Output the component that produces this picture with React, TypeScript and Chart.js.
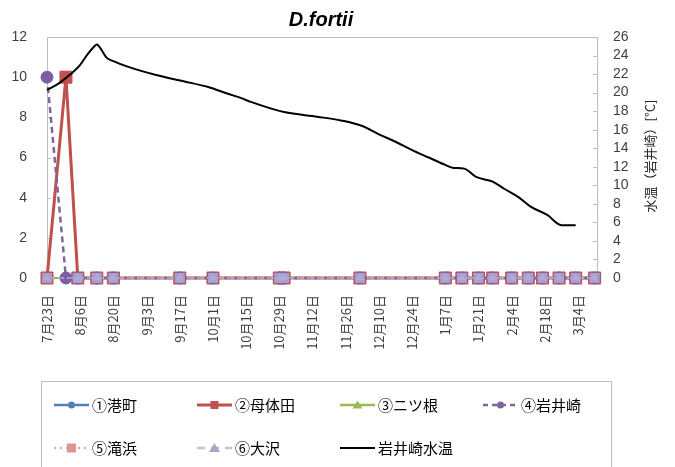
import React, { useEffect, useRef } from 'react';
import { Chart, registerables } from 'chart.js';

Chart.register(...registerables);

// ---------- text ----------
const chartTitle = 'D.fortii';
const rightAxisTitle = '水温（岩井崎）[°C]';

// ---------- x axis (dates, days counted from 7/23) ----------
const axisStart = '7/23';
const axisEnd = '3/12';
const tickDates = ['7/23', '8/6', '8/20', '9/3', '9/17', '10/1', '10/15', '10/29', '11/12', '11/26', '12/10', '12/24', '1/7', '1/21', '2/4', '2/18', '3/4'];
const tickLabels = ['7月23日', '8月6日', '8月20日', '9月3日', '9月17日', '10月1日', '10月15日', '10月29日', '11月12日', '11月26日', '12月10日', '12月24日', '1月7日', '1月21日', '2月4日', '2月18日', '3月4日'];

// ---------- y axes ----------
const leftMin = 0, leftMax = 12, leftStep = 2;
const rightMin = 0, rightMax = 26, rightStep = 2;

// ---------- sampling data ----------
const sampleDates = ['7/23', '7/31', '8/5', '8/13', '8/20', '9/17', '10/1', '10/29', '10/31', '12/2', '1/7', '1/14', '1/21', '1/27', '2/4', '2/11', '2/17', '2/24', '3/3', '3/11'];
const minatomachi = [0, 0, 0, 0, 0, 0, 0, 0, 0, 0, 0, 0, 0, 0, 0, 0, 0, 0, 0, 0];
const motaida = [0, 10, 0, 0, 0, 0, 0, 0, 0, 0, 0, 0, 0, 0, 0, 0, 0, 0, 0, 0];
const futatsune = [0, null, 0, 0, 0, 0, 0, 0, 0, 0, 0, 0, 0, 0, 0, 0, 0, 0, 0, 0];
const iwaisaki = [10, 0, 0, 0, 0, 0, 0, 0, 0, 0, 0, 0, 0, 0, 0, 0, 0, 0, 0, 0];
const takihama = [0, null, 0, 0, 0, 0, 0, 0, 0, 0, 0, 0, 0, 0, 0, 0, 0, 0, 0, 0];
const osawa = [0, null, 0, 0, 0, 0, 0, 0, 0, 0, 0, 0, 0, 0, 0, 0, 0, 0, 0, 0];

// ---------- water temperature (Iwaisaki) ----------
const tempDates = ['7/23', '7/28', '8/2', '8/6', '8/9', '8/12', '8/13', '8/15', '8/17', '8/20', '8/26', '9/7', '9/19', '9/29', '10/7', '10/13', '10/17', '10/31', '11/14', '11/24', '12/3', '12/10', '12/17', '12/24', '12/31', '1/7', '1/10', '1/15', '1/20', '1/27', '2/1', '2/7', '2/12', '2/19', '2/25', '3/3'];
const tempValues = [20.3, 21.0, 22.0, 23.0, 24.1, 25.0, 25.2, 24.6, 23.8, 23.4, 22.8, 21.9, 21.2, 20.6, 19.9, 19.4, 19.0, 17.9, 17.4, 17.0, 16.4, 15.5, 14.7, 13.8, 13.0, 12.2, 11.9, 11.8, 10.9, 10.4, 9.6, 8.7, 7.7, 6.8, 5.7, 5.7];

const seriesLabels = ['①港町', '②母体田', '③ニツ根', '④岩井崎', '⑤滝浜', '⑥大沢', '岩井崎水温'];

function dayOffset(md: string): number {
  const [m, d] = md.split('/').map(Number);
  const year = m >= 7 ? 2001 : 2002;
  return Math.round((Date.UTC(year, m - 1, d) - Date.UTC(2001, 6, 23)) / 86400000);
}

function pts(dates: string[], vals: (number | null)[]) {
  return dates.map((d, i) => ({ x: dayOffset(d), y: vals[i] }));
}

const AXIS_GRAY = '#BFBFBF';
const TEXT = '#404040';
const CJK = '"Noto Sans CJK JP", "Noto Sans", sans-serif';
const LAT = '"Liberation Sans", Arial, sans-serif';

// legend styles
const legendStyles = [
  { color: '#4F81BD', dash: [] as number[], width: 2.5, marker: 'circle', mColor: '#4F81BD', mSize: 3.5 },
  { color: '#C0504D', dash: [], width: 3, marker: 'rect', mColor: '#C0504D', mSize: 4 },
  { color: '#9BBB59', dash: [], width: 2.5, marker: 'triangle', mColor: '#9BBB59', mSize: 4.5 },
  { color: '#8064A2', dash: [5, 4], width: 2.5, marker: 'circle', mColor: '#8064A2', mSize: 3.5 },
  { color: '#E6A6A4', dash: [2, 4], width: 2, marker: 'rect', mColor: '#D99694', mSize: 4.5 },
  { color: '#C9BDDC', dash: [8, 6], width: 2.5, marker: 'triangle', mColor: '#B3A2C7', mSize: 5 },
  { color: '#000000', dash: [], width: 2, marker: 'none', mColor: '#000', mSize: 0 },
];

function drawMarker(ctx: CanvasRenderingContext2D, kind: string, x: number, y: number, s: number, color: string) {
  ctx.save();
  ctx.setLineDash([]);
  ctx.fillStyle = color;
  ctx.beginPath();
  if (kind === 'circle') {
    ctx.arc(x, y, s, 0, Math.PI * 2);
  } else if (kind === 'rect') {
    ctx.rect(x - s, y - s, 2 * s, 2 * s);
  } else if (kind === 'triangle') {
    ctx.moveTo(x, y - s);
    ctx.lineTo(x + s * 1.1, y + s * 0.8);
    ctx.lineTo(x - s * 1.1, y + s * 0.8);
    ctx.closePath();
  }
  if (kind !== 'none') ctx.fill();
  ctx.restore();
}

const decorPlugin = {
  id: 'decor',
  beforeDatasetsDraw(chart: any) {
    const ctx: CanvasRenderingContext2D = chart.ctx;
    const area = chart.chartArea;
    ctx.save();
    // inward tick marks (under the data)
    ctx.strokeStyle = AXIS_GRAY;
    ctx.lineWidth = 1;
    const yS = chart.scales.y;
    for (let v = leftMin; v <= leftMax; v += leftStep) {
      const py = Math.round(yS.getPixelForValue(v)) + 0.5;
      ctx.beginPath();
      ctx.moveTo(area.left, py);
      ctx.lineTo(area.left + 4, py);
      ctx.stroke();
    }
    const y1S = chart.scales.y1;
    for (let v = rightMin; v <= rightMax; v += rightStep) {
      const py = Math.round(y1S.getPixelForValue(v)) + 0.5;
      ctx.beginPath();
      ctx.moveTo(area.right - 4, py);
      ctx.lineTo(area.right, py);
      ctx.stroke();
    }
    ctx.restore();
  },
  afterDraw(chart: any) {
    const ctx: CanvasRenderingContext2D = chart.ctx;
    ctx.save();
    // title
    ctx.fillStyle = '#000';
    ctx.font = `bold italic 20px ${LAT}`;
    ctx.textAlign = 'center';
    ctx.textBaseline = 'middle';
    ctx.fillText(chartTitle, 321, 20);

    // right axis title (reads bottom to top)
    ctx.save();
    ctx.translate(650, 156);
    ctx.rotate(-Math.PI / 2);
    ctx.fillStyle = '#262626';
    ctx.font = `13px ${CJK}`;
    ctx.textAlign = 'center';
    ctx.textBaseline = 'middle';
    ctx.fillText(rightAxisTitle, 0, 0);
    ctx.restore();

    // legend box
    const boxLeft = 41, boxTop = 381, boxRight = 611;
    ctx.strokeStyle = AXIS_GRAY;
    ctx.lineWidth = 1;
    ctx.strokeRect(boxLeft + 0.5, boxTop + 0.5, boxRight - boxLeft, 120);

    ctx.font = `15px ${CJK}`;
    ctx.textAlign = 'left';
    ctx.textBaseline = 'middle';
    seriesLabels.forEach((label, i) => {
      const col = i < 4 ? i : i - 4;
      const row = i < 4 ? 0 : 1;
      const sx = boxLeft + 13 + col * 143;
      const y = 405 + row * 43;
      const st = legendStyles[i];
      ctx.save();
      ctx.strokeStyle = st.color;
      ctx.lineWidth = st.width;
      ctx.setLineDash(st.dash);
      ctx.beginPath();
      ctx.moveTo(sx, y);
      ctx.lineTo(sx + 35, y);
      ctx.stroke();
      ctx.restore();
      drawMarker(ctx, st.marker, sx + 17.5, y, st.mSize, st.mColor);
      ctx.fillStyle = '#000';
      ctx.fillText(label, sx + 38, y);
    });
    ctx.restore();
  },
};

export default function App() {
  const ref = useRef<HTMLCanvasElement | null>(null);

  useEffect(() => {
    document.body.style.margin = '0';
    const canvas = ref.current;
    if (!canvas) return;
    const chart = new Chart(canvas, {
      type: 'line',
      data: {
        datasets: [
          {
            label: seriesLabels[0], data: pts(sampleDates, minatomachi), yAxisID: 'y',
            borderColor: '#4F81BD', backgroundColor: '#4F81BD', borderWidth: 2,
            pointStyle: 'circle', pointRadius: 5.5, pointBackgroundColor: '#4F81BD', pointBorderColor: '#4F81BD', pointBorderWidth: 1,
            order: 6, clip: false, spanGaps: true,
          },
          {
            label: seriesLabels[1], data: pts(sampleDates, motaida), yAxisID: 'y',
            borderColor: '#C0504D', backgroundColor: '#C0504D', borderWidth: 3,
            pointStyle: 'rect', pointRadius: 8.5, pointBackgroundColor: '#C0504D', pointBorderColor: '#C0504D', pointBorderWidth: 1,
            order: 5, clip: false, spanGaps: true,
          },
          {
            label: seriesLabels[2], data: pts(sampleDates, futatsune), yAxisID: 'y',
            borderColor: '#9BBB59', backgroundColor: '#9BBB59', borderWidth: 1.5,
            pointStyle: 'triangle', pointRadius: 5, pointBackgroundColor: '#9BBB59', pointBorderColor: '#9BBB59', pointBorderWidth: 0,
            order: 4, clip: false, spanGaps: true,
          },
          {
            label: seriesLabels[3], data: pts(sampleDates, iwaisaki), yAxisID: 'y',
            borderColor: '#8064A2', backgroundColor: '#7B5EA7', borderWidth: 2.5, borderDash: [6, 4],
            pointStyle: 'circle', pointRadius: 6, pointBackgroundColor: '#7B5EA7', pointBorderColor: '#7B5EA7', pointBorderWidth: 1,
            order: 3, clip: false, spanGaps: true,
          },
          {
            label: seriesLabels[4], data: pts(sampleDates, takihama), yAxisID: 'y',
            borderColor: '#E6A6A4', backgroundColor: '#A99DC9', borderWidth: 1.5, borderDash: [2, 3],
            pointStyle: 'rect', pointRadius: 7.2, pointBackgroundColor: '#A99DC9', pointBorderColor: '#A99DC9', pointBorderWidth: 0,
            order: 2, clip: false, spanGaps: true,
          },
          {
            label: seriesLabels[5], data: pts(sampleDates, osawa), yAxisID: 'y',
            borderColor: '#B3A2C7', backgroundColor: '#B4A9D3', borderWidth: 1.5, borderDash: [6, 4],
            pointStyle: 'triangle', pointRadius: 5, pointBackgroundColor: '#B4A9D3', pointBorderColor: '#B4A9D3', pointBorderWidth: 0,
            order: 1, clip: false, spanGaps: true,
          },
          {
            label: seriesLabels[6], data: pts(tempDates, tempValues), yAxisID: 'y1',
            borderColor: '#000000', backgroundColor: '#000000', borderWidth: 2,
            pointRadius: 0, tension: 0.4, cubicInterpolationMode: 'monotone',
            order: 0, clip: false,
          },
        ] as any,
      },
      options: {
        responsive: false,
        animation: false,
        devicePixelRatio: 1,
        layout: { padding: { top: 37, left: 0, right: 0, bottom: 0 } },
        plugins: {
          legend: { display: false },
          title: { display: false },
          tooltip: { enabled: false },
        },
        scales: {
          x: {
            type: 'linear',
            min: dayOffset(axisStart),
            max: dayOffset(axisEnd),
            grid: { display: false },
            border: { display: true, color: AXIS_GRAY, width: 1 },
            afterBuildTicks: (s: any) => { s.ticks = tickDates.map((d) => ({ value: dayOffset(d) })); },
            afterFit: (s: any) => { s.height = 189; },
            ticks: {
              autoSkip: false,
              minRotation: 90,
              maxRotation: 90,
              padding: 9,
              color: TEXT,
              font: { family: CJK, size: 13 },
              callback: (_v: any, i: number) => tickLabels[i],
            },
          },
          y: {
            type: 'linear',
            position: 'left',
            min: leftMin,
            max: leftMax,
            afterFit: (s: any) => { s.width = 47; },
            grid: {
              drawTicks: false,
              color: (c: any) => (c.tick && c.tick.value === leftMax ? AXIS_GRAY : 'rgba(0,0,0,0)'),
              lineWidth: 1,
            },
            border: { display: true, color: AXIS_GRAY, width: 1 },
            ticks: { stepSize: leftStep, autoSkip: false, padding: 20, color: TEXT, font: { family: LAT, size: 14 } },
          },
          y1: {
            type: 'linear',
            position: 'right',
            min: rightMin,
            max: rightMax,
            afterFit: (s: any) => { s.width = 78; },
            grid: { display: false, drawTicks: false },
            border: { display: true, color: AXIS_GRAY, width: 1 },
            ticks: { stepSize: rightStep, autoSkip: false, padding: 16, color: TEXT, font: { family: LAT, size: 14 } },
          },
        },
      } as any,
      plugins: [decorPlugin],
    });
    return () => chart.destroy();
  }, []);

  return (
    <div style={{ width: 675, height: 467, position: 'relative', background: '#fff' }}>
      <canvas ref={ref} width={675} height={467} style={{ display: 'block' }} />
    </div>
  );
}
